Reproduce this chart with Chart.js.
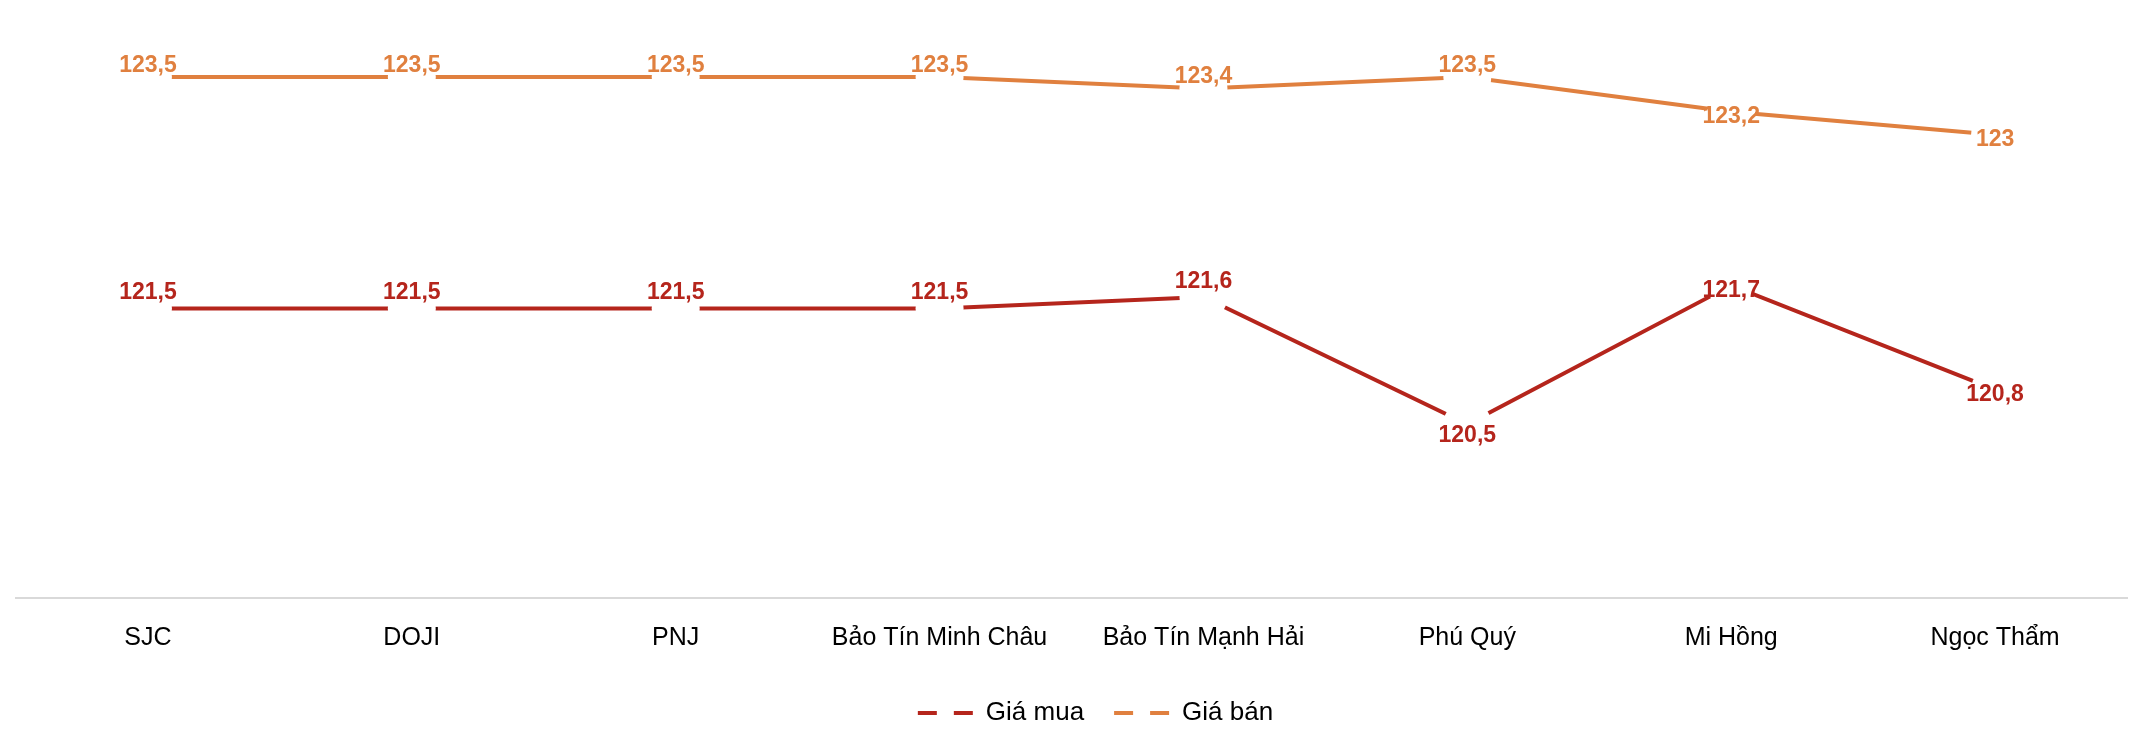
<!DOCTYPE html>
<html lang="vi">
<head>
<meta charset="utf-8">
<title>Giá vàng</title>
<script src="https://cdn.jsdelivr.net/npm/chart.js@4.4.1/dist/chart.umd.min.js"></script>
<style>
  html, body { margin: 0; padding: 0; background: #fff; }
  #wrap { width: 2144px; height: 736px; }
</style>
</head>
<body>
<div id="wrap"><canvas id="grafico"></canvas></div>
<script>
// Dữ liệu
const cuaHang = ["SJC", "DOJI", "PNJ", "Bảo Tín Minh Châu", "Bảo Tín Mạnh Hải", "Phú Quý", "Mi Hồng", "Ngọc Thẩm"];
const giaMua = [121.5, 121.5, 121.5, 121.5, 121.6, 120.5, 121.7, 120.8];
const giaBan = [123.5, 123.5, 123.5, 123.5, 123.4, 123.5, 123.2, 123];

// vị trí nhãn so với điểm
const viTriMua = ["above", "above", "above", "above", "above", "below", "center", "center"];
const viTriBan = ["above", "above", "above", "above", "above", "above", "center", "center"];

const mauMua = "#b5251c";
const mauBan = "#e0803f";
const fontChu = "'Liberation Sans', Arial, sans-serif";

// Vẽ nhãn giá trị lên trên cùng
const nhanGiaTri = {
    id: "nhanGiaTri",
    afterDatasetsDraw(chart) {
        const ctx = chart.ctx;
        ctx.save();
        ctx.font = "bold 23px " + fontChu;
        ctx.textAlign = "center";
        ctx.textBaseline = "middle";
        chart.data.datasets.forEach((ds, i) => {
            const meta = chart.getDatasetMeta(i);
            ctx.fillStyle = ds.borderColor;
            meta.data.forEach((pt, j) => {
                const pos = ds.viTri[j];
                let dy = 5;
                if (pos === "above") dy = ds.nhanTren;
                if (pos === "below") dy = 11;
                const txt = String(ds.data[j]).replace(".", ",");
                ctx.fillText(txt, pt.x, pt.y + dy);
            });
        });
        ctx.restore();
    }
};

// dời chú thích sang phải một chút như bản gốc
const doiChuThich = {
    id: "doiChuThich",
    afterLayout(chart) {
        chart.legend.left += 24;
        chart.legend.right += 24;
    }
};

let chart;

function inicializarGrafico() {
    const ctx = document.getElementById("grafico").getContext("2d");
    chart = new Chart(ctx, {
        type: "line",
        data: {
            labels: cuaHang,
            datasets: [{
                label: "Giá mua",
                data: giaMua,
                viTri: viTriMua,
                nhanTren: -15.5,
                borderColor: mauMua,
                borderWidth: 4,
                pointRadius: 24,
                pointHoverRadius: 24,
                pointBackgroundColor: "#fff",
                pointBorderWidth: 0,
                tension: 0,
            }, {
                label: "Giá bán",
                data: giaBan,
                viTri: viTriBan,
                nhanTren: -11.5,
                borderColor: mauBan,
                borderWidth: 4,
                pointRadius: 24,
                pointHoverRadius: 24,
                pointBackgroundColor: "#fff",
                pointBorderWidth: 0,
                tension: 0,
            }],
        },
        options: {
            responsive: true,
            maintainAspectRatio: false,
            devicePixelRatio: 1,
            animation: false,
            layout: {
                autoPadding: false,
                padding: { top: 19, left: 16, right: 17, bottom: 0 },
            },
            plugins: {
                tooltip: { enabled: false },
                legend: {
                    display: true,
                    position: "bottom",
                    labels: {
                        usePointStyle: true,
                        pointStyleWidth: 55,
                        padding: 30,
                        color: "#000",
                        font: { family: fontChu, size: 26 },
                        generateLabels(c) {
                            return Chart.defaults.plugins.legend.labels.generateLabels(c).map((it) => ({
                                ...it,
                                pointStyle: "line",
                                lineDash: [19, 17],
                                lineWidth: 4,
                            }));
                        },
                    },
                },
            },
            scales: {
                x: {
                    offset: true,
                    grid: { display: false, drawTicks: false },
                    border: { display: true, color: "#d9d9d9", width: 2 },
                    ticks: {
                        color: "#000",
                        padding: 25,
                        maxRotation: 0,
                        autoSkip: false,
                        font: { family: fontChu, size: 25 },
                    },
                    afterFit(scale) {
                        scale.height = 72;
                    },
                },
                y: {
                    display: false,
                    min: 119,
                    max: 124,
                },
            },
        },
        plugins: [nhanGiaTri, doiChuThich],
    });
}

window.onload = inicializarGrafico;
</script>
</body>
</html>
